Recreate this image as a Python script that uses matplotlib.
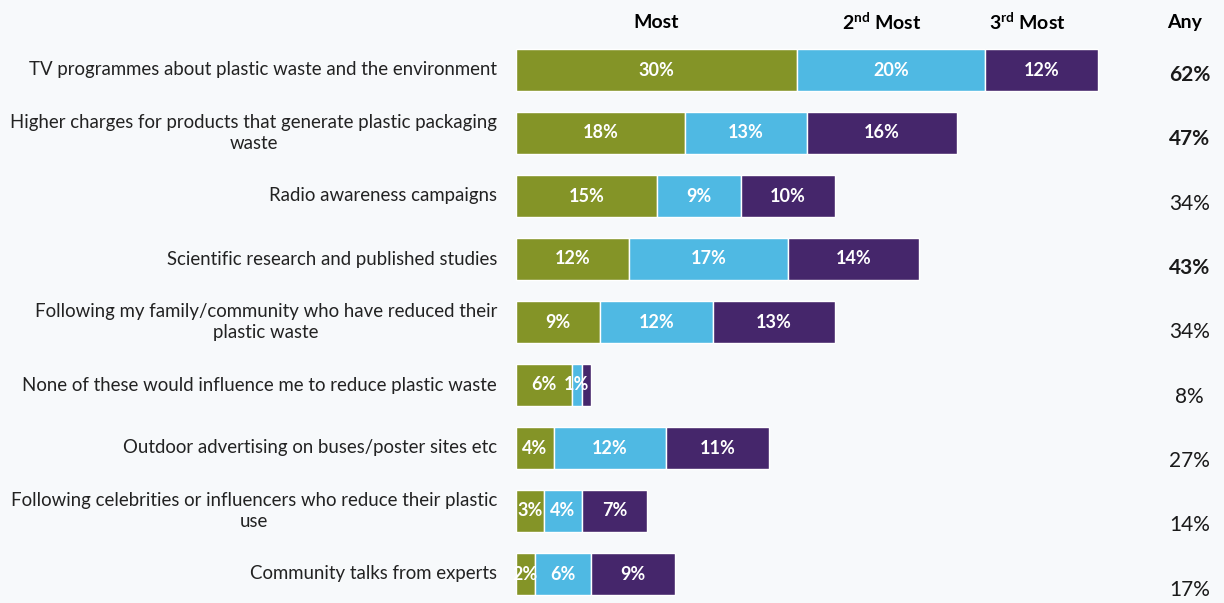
import matplotlib.pyplot as plt
import numpy as np

plt.rcParams['font.family'] = ['Lato', 'DejaVu Sans']
plt.rcParams['mathtext.fontset'] = 'custom'
plt.rcParams['mathtext.rm'] = 'Lato'
plt.rcParams['mathtext.bf'] = 'Lato:bold'

labels = ['TV programmes about plastic waste and the environment',
          'Higher charges for products that generate plastic packaging\nwaste',
          'Radio awareness campaigns',
          'Scientific research and published studies',
          'Following my family/community who have reduced their\nplastic waste',
          'None of these would influence me to reduce plastic waste',
          'Outdoor advertising on buses/poster sites etc',
          'Following celebrities or influencers who reduce their plastic\nuse',
          'Community talks from experts']
most = [30, 18, 15, 12, 9, 6, 4, 3, 2]
second = [20, 13, 9, 17, 12, 1, 12, 4, 6]
third = [12, 16, 10, 14, 13, 1, 11, 7, 9]
any_vals = [62, 47, 34, 43, 34, 8, 27, 14, 17]
any_bold = [True, True, False, True, False, False, False, False, False]

colors = ['#849427', '#4fb9e3', '#45266b']
bg = '#f7f9fb'

fig = plt.figure(figsize=(12.24, 6.03), dpi=100, facecolor=bg)
ax = fig.add_axes([516 / 1224, 0, 708 / 1224, 1])
ax.set_facecolor(bg)
ax.set_xlim(0, 708 / 9.38)
ax.set_ylim((603 - 70) / 63, -70 / 63)
ax.axis('off')

y = np.arange(len(labels))
left = np.zeros(len(labels))
for k, (vals, c) in enumerate(zip([most, second, third], colors)):
    vals = np.array(vals)
    ax.barh(y, vals, left=left, height=0.67, color=c, edgecolor='white', linewidth=1)
    for yi, l, v in zip(y, left, vals):
        # the last 1% segment's label is hidden under the neighbour in the original
        if k == 2 and v < 2:
            continue
        ax.text(l + v / 2, yi, f'{v}%', ha='center', va='center', color='white',
                fontsize=13, fontweight='bold')
    left = left + vals

for yi, lab in zip(y, labels):
    ax.text(-2, yi, lab, ha='right', va='center', multialignment='center',
            fontsize=13.4, linespacing=1.3, color='#222222', clip_on=False)

for i, (v, b) in enumerate(zip(any_vals, any_bold)):
    ax.text(71.8, i + 0.08 + 0.021 * i, f'{v}%', ha='center', va='center', fontsize=15,
            fontweight='bold' if b else 'normal', color='#1a1a1a')

hy = -0.76
ax.text(14.9, hy, 'Most', ha='center', va='center', fontsize=14, fontweight='bold')
ax.text(39.0, hy, r'$\mathbf{2^{nd}}$' + ' Most', ha='center', va='center', fontsize=14, fontweight='bold')
ax.text(54.5, hy, r'$\mathbf{3^{rd}}$' + ' Most', ha='center', va='center', fontsize=14, fontweight='bold')
ax.text(71.3, hy, 'Any', ha='center', va='center', fontsize=14, fontweight='bold')

fig.savefig('out.png', dpi=100, facecolor=bg)
